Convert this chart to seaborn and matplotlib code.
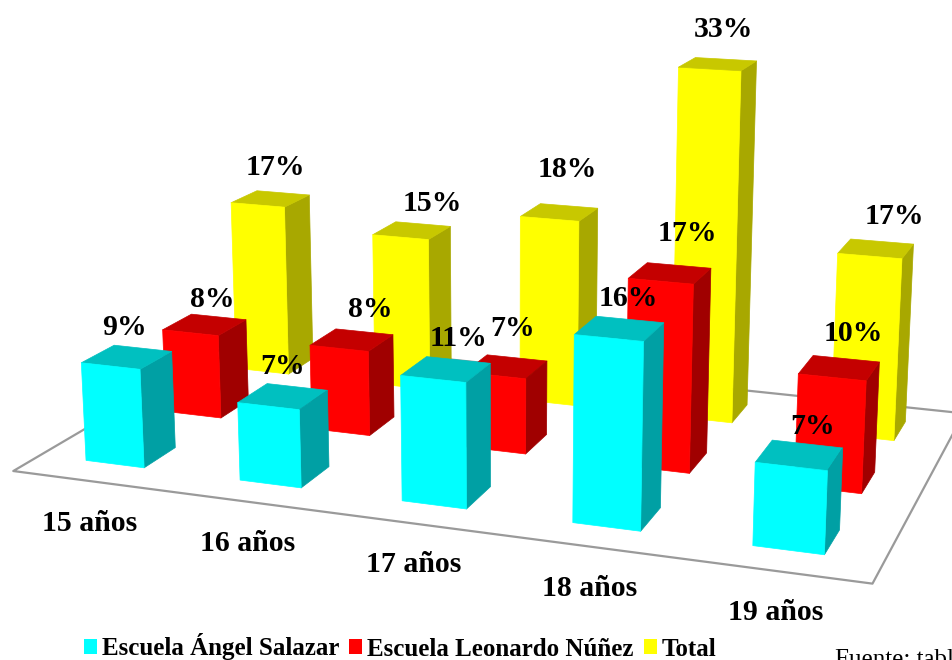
import numpy as np
import pandas as pd
import matplotlib
matplotlib.use("Agg")
import matplotlib.pyplot as plt
from matplotlib.patches import Patch
from mpl_toolkits.mplot3d import proj3d
from mpl_toolkits.mplot3d.art3d import Poly3DCollection
import seaborn as sns

# Share of students by age and group
ages = ["15 años", "16 años", "17 años", "18 años", "19 años"]
series = ["Escuela Ángel Salazar", "Escuela Leonardo Núñez", "Total"]
salazar = [9, 7, 11, 16, 7]
nunez = [8, 8, 7, 17, 10]
total = [17, 15, 18, 33, 17]

# Pixel offsets of each value label from the top of its bar
offset_x = [[-2, 0, 13, 9, 13], [8, 18, 6, 17, 14], [5, 20, 8, 6, 19]]
offset_y = [[30, 30, 31, 30, 29], [25, 30, 38, 40, 34], [31, 27, 43, 35, 32]]
age_offset_x = [1, 0, 0, 0, 1]
age_offset_y = [-43, -42, -41, -42, -42]

sns.set_theme(style="white")
plt.rcParams["font.family"] = ["Liberation Serif", "DejaVu Serif"]
W, H = 953, 660

table = pd.DataFrame({"edad": ages, series[0]: salazar, series[1]: nunez, series[2]: total})
long = table.melt(id_vars="edad", var_name="serie", value_name="pct")

front = sns.color_palette(["#00FFFF", "#FF0000", "#FFFF00"])
top = sns.color_palette(["#00C0C0", "#C40000", "#C8C800"])
side = sns.color_palette(["#00A0A4", "#A00000", "#A8A800"])
clear = (0, 0, 0, 0)

fig = plt.figure(figsize=(W / 100, H / 100), dpi=100, facecolor="white")
ax = fig.add_subplot(projection="3d", computed_zorder=False)

bar_w, bar_d = 0.383, 0.390
z_order = 1
for j in (2, 1, 0):
    rows = long[long["serie"] == series[j]]
    for i, v in enumerate(rows["pct"]):
        # bar3d face order: bottom, top, front, back, left, right
        faces = [clear, top[j], front[j], clear, clear, side[j]]
        ax.bar3d(i + 0.5 - bar_w / 2, j + 0.5 - bar_d / 2, 0, bar_w, bar_d, v,
                 color=faces, edgecolor=faces, shade=False, linewidth=0.5, zorder=z_order)
        z_order += 1

floor = Poly3DCollection([[(0, 0, 0), (5, 0, 0), (5, 3, 0), (0, 3, 0)]],
                         facecolor="white", edgecolor="#9a9a9a", linewidth=1.6, zorder=0)
ax.add_collection3d(floor)

ax.set_xlim(0, 5)
ax.set_ylim(0, 3)
ax.set_zlim(0, 33)
ax.view_init(elev=14.34, azim=-70.14)
ax.set_proj_type("persp", focal_length=0.4126)
ax.set_box_aspect((1, 0.5893, 0.4376))
ax.set_axis_off()

# Square axes sized so that the projected scene fills the canvas
scale, cx, cy = 5526.1, 492.3, 278.0
side_px = scale * (ax.viewLim.intervalx[1] - ax.viewLim.intervalx[0])
ax.set_position([(cx - side_px / 2) / W, 1 - (cy + side_px / 2) / H, side_px / W, side_px / H])

M = ax.get_proj()


def place(text, x3, y3, z3, dx, dy, **kw):
    x2, y2, _ = proj3d.proj_transform(x3, y3, z3, M)
    ax.annotate(text, xy=(x2, y2), xycoords="data", xytext=(dx, dy), textcoords="offset pixels",
                ha="center", va="center", color="black", annotation_clip=False, zorder=100, **kw)


for j in range(3):
    rows = long[long["serie"] == series[j]]
    for i, v in enumerate(rows["pct"]):
        place(f"{v}%", i + 0.5, j + 0.5, v, offset_x[j][i], offset_y[j][i],
              fontsize=21.4, fontweight="bold")

for i, age in enumerate(ages):
    place(age, i + 0.5, 0, 0, age_offset_x[i], age_offset_y[i], fontsize=21.4, fontweight="bold")

handles = [Patch(facecolor=c, edgecolor="none") for c in front]
fig.legend(handles, series, loc="center", bbox_to_anchor=(400 / W, 1 - 647 / H), ncol=3,
           frameon=False, handlelength=0.52, handleheight=0.52, handletextpad=0.2,
           columnspacing=0.4, borderpad=0, borderaxespad=0, labelcolor="black",
           prop={"size": 18, "weight": "bold"})

fig.text(835 / W, 1 - 666 / H, "Fuente: tabl", fontsize=18, color="black", ha="left", va="baseline")

fig.savefig("out.png", dpi=100, facecolor="white")
